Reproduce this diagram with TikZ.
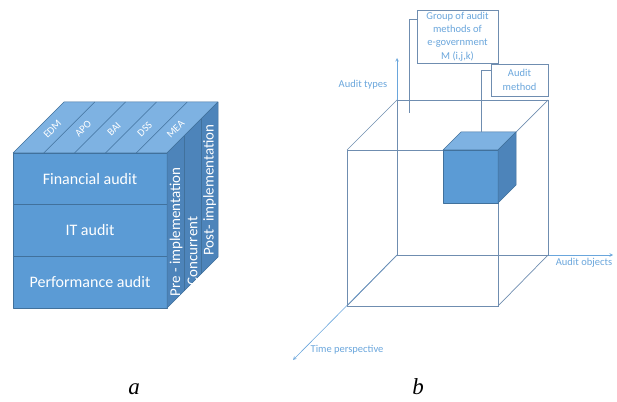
\documentclass[tikz,border=0pt]{standalone}
\usepackage{fontspec}
\setmainfont{Carlito}
\newfontfamily\serifcap{Liberation Serif}
\definecolor{frontblue}{HTML}{5B9BD5}
\definecolor{topblue}{HTML}{7EB2E2}
\definecolor{sideblue}{HTML}{4D84BA}
\definecolor{edgeblue}{HTML}{41719C}
\definecolor{wireblue}{HTML}{6F8DB0}
\definecolor{axisblue}{HTML}{6AA6DC}
\begin{document}
\begin{tikzpicture}[x=1pt,y=1pt]
    \tikzstyle{face}=[draw=edgeblue, line width=0.5pt, line join=round]
    \tikzstyle{wire}=[draw=wireblue, line width=0.7pt]
    \tikzstyle{axe}=[->,>=stealth,axisblue,line width=0.6pt]
\tikzset{rowlabel/.style={text=white, font=\fontsize{16}{18}\selectfont},
toplabel/.style={text=white, font=\fontsize{10.5}{12}\selectfont, rotate=45, inner sep=0pt},
sidelabel/.style={text=white, font=\fontsize{15}{17}\selectfont, rotate=90, inner sep=0pt},
axelabel/.style={text=axisblue, font=\fontsize{10.5}{12}\selectfont},
callout/.style={draw=wireblue, line width=0.7pt, fill=white, text=axisblue, align=center,
  font=\fontsize{10.5}{13.3}\selectfont, inner sep=1pt},
sublabel/.style={font=\serifcap\itshape\fontsize{23}{26}\selectfont}}
\useasboundingbox (0,0) rectangle (617,401);

% a : audit cube
\fill[face, fill=frontblue] (13,93) rectangle (167,248);
\fill[face, fill=topblue] (13,248) -- (167,248) -- (218,299) -- (64,299) -- cycle;
\fill[face, fill=sideblue] (167,93) -- (218,144) -- (218,299) -- (167,248) -- cycle;
\draw[face] (13,144.7) -- (167,144.7);
\draw[face] (13,196.3) -- (167,196.3);
\foreach \k in {1,...,4}
  \draw[face] ({13+30.8*\k},248) -- ++(51,51);
\foreach \k in {1,2}
  \draw[face] ({167+17*\k},{93+17*\k}) -- ++(0,155);

\node[rowlabel] (fin) at (90,222) {Financial audit};
\node[rowlabel] (it) at (90,170.5) {IT audit};
\node[rowlabel] (perf) at (90,119) {Performance audit};
\foreach \t [count=\i] in {EDM,APO,BAI,DSS,MEA}
  \node[toplabel] (top\i) at ({13+30.8*(\i-0.5)+24},272) {\t};
\node[sidelabel] (pre) at (176,169) {Pre - implementation};
\node[sidelabel] (conc) at (192.5,150) {Concurrent};
\node[sidelabel] (post) at (209.5,211) {Post- implementation};

% b : three axes and the wire cube
\coordinate (O) at (397,146);
\coordinate (types) at (397,343);
\coordinate (objects) at (613,146);
\coordinate (time) at (293,41);
\draw[axe] (O) -- (types);
\draw[axe] (O) -- (objects);
\draw[axe] (O) -- (time);
\node[axelabel] (ltypes) at (363,316) {Audit types};
\node[axelabel] (lobjects) at (584,138) {Audit objects};
\node[axelabel] (ltime) at (347,51) {Time perspective};

\draw[wire] (347,95) rectangle (498,251);
\draw[wire] (397,146) rectangle (548,301);
\draw[wire] (347,95) -- (397,146);
\draw[wire] (498,95) -- (548,146);
\draw[wire] (347,251) -- (397,301);
\draw[wire] (498,251) -- (548,301);

% audit method
\fill[face, fill=frontblue] (443,198) rectangle (498,251);
\fill[face, fill=topblue] (443,251) -- (498,251) -- (516,269) -- (461,269) -- cycle;
\fill[face, fill=sideblue] (498,198) -- (516,216) -- (516,269) -- (498,251) -- cycle;

\node[callout, minimum width=81, minimum height=53] (grp) at (457.5,364.5)
  {Group of audit\\methods of\\e-government\\M (i,j,k)};
\node[callout, minimum width=57, minimum height=32] (mth) at (519.5,321) {Audit\\method};
\coordinate (grpfoot) at (409,288);
\coordinate (mthfoot) at (481,269);
\draw[wire] (grpfoot) |- ([yshift=17.5pt]grp.west);
\draw[wire] (mthfoot) |- ([yshift=10pt]mth.west);

\node[sublabel, anchor=base] (capa) at (134,7) {a};
\node[sublabel, anchor=base] (capb) at (418,7) {b};
\end{tikzpicture}
\end{document}
